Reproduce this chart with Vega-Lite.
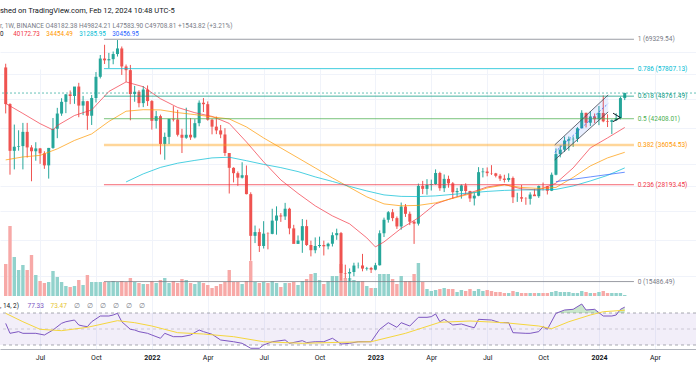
{
"$schema": "https://vega.github.io/schema/vega-lite/v6.json",
"width": 696, "height": 333,
"autosize": {"type": "none"},
"padding": {"left": 0, "right": 0, "top": 16, "bottom": 36},
"background": "#ffffff",
"config": {"view": {"stroke": null}, "font": "Roboto"},
"title": {"text": "shed on TradingView.com, Feb 12, 2024 10:48 UTC-5", "subtitle": "r, 1W, BINANCE  O48182.38  H49824.21  L47583.90  C49708.81  +1543.82 (+3.21%)", "anchor": "start", "frame": "group", "offset": -13, "fontSize": 7.5, "fontWeight": "normal", "color": "#131722", "subtitleFontSize": 6.5, "subtitleColor": "#787b86", "subtitlePadding": 8, "font": "Roboto", "subtitleFont": "Roboto"},
"datasets": {
"candles": [
{"d":"2021-05-10","o":58241,"h":59595,"l":43825,"c":46432,"v":448},
{"d":"2021-05-17","o":46432,"h":46664,"l":30000,"c":34770,"v":980},
{"d":"2021-05-24","o":34770,"h":40900,"l":31000,"c":35660,"v":546},
{"d":"2021-05-31","o":35660,"h":39480,"l":34800,"c":35800,"v":364},
{"d":"2021-06-07","o":35800,"h":41330,"l":31000,"c":39097,"v":434},
{"d":"2021-06-14","o":39097,"h":41330,"l":33340,"c":35510,"v":364},
{"d":"2021-06-21","o":35510,"h":36000,"l":28805,"c":34680,"v":574},
{"d":"2021-06-28","o":34680,"h":36670,"l":32700,"c":35290,"v":294},
{"d":"2021-07-05","o":35290,"h":35400,"l":32080,"c":34240,"v":210},
{"d":"2021-07-12","o":34240,"h":34680,"l":31100,"c":31780,"v":182},
{"d":"2021-07-19","o":31780,"h":35400,"l":29280,"c":35400,"v":196},
{"d":"2021-07-26","o":35400,"h":42600,"l":35200,"c":39850,"v":350},
{"d":"2021-08-02","o":39850,"h":45360,"l":37600,"c":43790,"v":266},
{"d":"2021-08-09","o":43790,"h":48140,"l":43180,"c":47080,"v":196},
{"d":"2021-08-16","o":47080,"h":49400,"l":43900,"c":49300,"v":140},
{"d":"2021-08-23","o":49300,"h":50500,"l":46400,"c":48810,"v":126},
{"d":"2021-08-30","o":48810,"h":51100,"l":46500,"c":51750,"v":140},
{"d":"2021-09-06","o":51750,"h":52950,"l":42800,"c":46000,"v":224},
{"d":"2021-09-13","o":46000,"h":48850,"l":43370,"c":47260,"v":154},
{"d":"2021-09-20","o":47260,"h":47360,"l":39600,"c":43200,"v":294},
{"d":"2021-09-27","o":43200,"h":49100,"l":40800,"c":48200,"v":196},
{"d":"2021-10-04","o":48200,"h":56600,"l":46900,"c":54960,"v":196},
{"d":"2021-10-11","o":54960,"h":62900,"l":54400,"c":61530,"v":196},
{"d":"2021-10-18","o":61530,"h":67000,"l":59500,"c":60860,"v":196},
{"d":"2021-10-25","o":60860,"h":63710,"l":58000,"c":61300,"v":196},
{"d":"2021-11-01","o":61300,"h":64270,"l":59400,"c":63270,"v":210},
{"d":"2021-11-08","o":63270,"h":69000,"l":62300,"c":65500,"v":196},
{"d":"2021-11-15","o":65500,"h":66300,"l":55600,"c":58600,"v":210},
{"d":"2021-11-22","o":58600,"h":59300,"l":53250,"c":57270,"v":196},
{"d":"2021-11-29","o":57270,"h":59150,"l":42000,"c":49400,"v":252},
{"d":"2021-12-06","o":49400,"h":51950,"l":47100,"c":50100,"v":196},
{"d":"2021-12-13","o":50100,"h":50600,"l":45500,"c":46700,"v":182},
{"d":"2021-12-20","o":46700,"h":51900,"l":45560,"c":50800,"v":168},
{"d":"2021-12-27","o":50800,"h":52100,"l":45900,"c":47300,"v":168},
{"d":"2022-01-03","o":47300,"h":47570,"l":39650,"c":41860,"v":210},
{"d":"2022-01-10","o":41860,"h":44500,"l":39900,"c":43080,"v":182},
{"d":"2022-01-17","o":43080,"h":43500,"l":34000,"c":36280,"v":224},
{"d":"2022-01-24","o":36280,"h":38920,"l":32900,"c":37900,"v":252},
{"d":"2022-01-31","o":37900,"h":42000,"l":36250,"c":42400,"v":182},
{"d":"2022-02-07","o":42400,"h":45850,"l":41700,"c":42200,"v":210},
{"d":"2022-02-14","o":42200,"h":44800,"l":38000,"c":38400,"v":182},
{"d":"2022-02-21","o":38400,"h":39850,"l":34300,"c":37700,"v":238},
{"d":"2022-02-28","o":37700,"h":45400,"l":37450,"c":38400,"v":224},
{"d":"2022-03-07","o":38400,"h":42600,"l":37200,"c":37780,"v":182},
{"d":"2022-03-14","o":37780,"h":42300,"l":37550,"c":41260,"v":168},
{"d":"2022-03-21","o":41260,"h":47500,"l":40470,"c":46820,"v":196},
{"d":"2022-03-28","o":46820,"h":48190,"l":44200,"c":46400,"v":182},
{"d":"2022-04-04","o":46400,"h":47200,"l":41900,"c":42150,"v":154},
{"d":"2022-04-11","o":42150,"h":42400,"l":38500,"c":40380,"v":112},
{"d":"2022-04-18","o":40380,"h":42980,"l":38550,"c":39450,"v":140},
{"d":"2022-04-25","o":39450,"h":40800,"l":37600,"c":38470,"v":168},
{"d":"2022-05-02","o":38470,"h":40000,"l":33700,"c":34300,"v":196},
{"d":"2022-05-09","o":34300,"h":34300,"l":26700,"c":31300,"v":364},
{"d":"2022-05-16","o":31300,"h":31400,"l":28600,"c":30280,"v":196},
{"d":"2022-05-23","o":30280,"h":30600,"l":28000,"c":29450,"v":196},
{"d":"2022-05-30","o":29450,"h":32400,"l":29300,"c":29900,"v":168},
{"d":"2022-06-06","o":29900,"h":31750,"l":26560,"c":26600,"v":210},
{"d":"2022-06-13","o":26600,"h":26900,"l":17620,"c":20550,"v":490},
{"d":"2022-06-20","o":20550,"h":21900,"l":19650,"c":21030,"v":196},
{"d":"2022-06-27","o":21030,"h":21500,"l":18600,"c":19300,"v":182},
{"d":"2022-07-04","o":19300,"h":22500,"l":19000,"c":20830,"v":196},
{"d":"2022-07-11","o":20830,"h":21000,"l":18900,"c":20800,"v":182},
{"d":"2022-07-18","o":20800,"h":24300,"l":20750,"c":22580,"v":210},
{"d":"2022-07-25","o":22580,"h":24660,"l":20700,"c":23300,"v":182},
{"d":"2022-08-01","o":23300,"h":23650,"l":22400,"c":23170,"v":126},
{"d":"2022-08-08","o":23170,"h":25200,"l":22670,"c":24300,"v":182},
{"d":"2022-08-15","o":24300,"h":24450,"l":20750,"c":21520,"v":182},
{"d":"2022-08-22","o":21520,"h":22000,"l":19800,"c":19550,"v":196},
{"d":"2022-08-29","o":19550,"h":20600,"l":19550,"c":19960,"v":154},
{"d":"2022-09-05","o":19960,"h":22800,"l":18500,"c":21820,"v":210},
{"d":"2022-09-12","o":21820,"h":22700,"l":19300,"c":19420,"v":238},
{"d":"2022-09-19","o":19420,"h":19950,"l":18100,"c":18800,"v":308},
{"d":"2022-09-26","o":18800,"h":20350,"l":18450,"c":19300,"v":322},
{"d":"2022-10-03","o":19300,"h":20450,"l":19100,"c":19420,"v":224},
{"d":"2022-10-10","o":19420,"h":19950,"l":18200,"c":19260,"v":168},
{"d":"2022-10-17","o":19260,"h":19700,"l":18900,"c":19570,"v":210},
{"d":"2022-10-24","o":19570,"h":21000,"l":19240,"c":20630,"v":280},
{"d":"2022-10-31","o":20630,"h":21480,"l":20050,"c":20900,"v":280},
{"d":"2022-11-07","o":20900,"h":21050,"l":15590,"c":16330,"v":448},
{"d":"2022-11-14","o":16330,"h":17190,"l":15800,"c":16280,"v":252},
{"d":"2022-11-21","o":16280,"h":16800,"l":15480,"c":16430,"v":252},
{"d":"2022-11-28","o":16430,"h":17400,"l":16000,"c":17100,"v":224},
{"d":"2022-12-05","o":17100,"h":17420,"l":16800,"c":17110,"v":210},
{"d":"2022-12-12","o":17110,"h":18380,"l":16500,"c":16780,"v":210},
{"d":"2022-12-19","o":16780,"h":16960,"l":16580,"c":16840,"v":140},
{"d":"2022-12-26","o":16840,"h":16960,"l":16330,"c":16670,"v":112},
{"d":"2023-01-02","o":16670,"h":17390,"l":16600,"c":17130,"v":112},
{"d":"2023-01-09","o":17130,"h":21260,"l":17100,"c":20880,"v":308},
{"d":"2023-01-16","o":20880,"h":23000,"l":20400,"c":22700,"v":308},
{"d":"2023-01-23","o":22700,"h":23950,"l":22300,"c":23780,"v":308},
{"d":"2023-01-30","o":23780,"h":24250,"l":22500,"c":22930,"v":238},
{"d":"2023-02-06","o":22930,"h":23160,"l":21450,"c":21780,"v":168},
{"d":"2023-02-13","o":21780,"h":25250,"l":21350,"c":24630,"v":280},
{"d":"2023-02-20","o":24630,"h":25020,"l":23100,"c":23550,"v":210},
{"d":"2023-02-27","o":23550,"h":23880,"l":21960,"c":22430,"v":210},
{"d":"2023-03-06","o":22430,"h":22600,"l":19550,"c":22160,"v":308},
{"d":"2023-03-13","o":22160,"h":28390,"l":21900,"c":27990,"v":462},
{"d":"2023-03-20","o":27990,"h":28870,"l":26600,"c":27480,"v":196},
{"d":"2023-03-27","o":27480,"h":29180,"l":26500,"c":28170,"v":98},
{"d":"2023-04-03","o":28170,"h":29100,"l":27200,"c":28320,"v":70},
{"d":"2023-04-10","o":28320,"h":31000,"l":28170,"c":30310,"v":84},
{"d":"2023-04-17","o":30310,"h":30550,"l":27150,"c":27590,"v":98},
{"d":"2023-04-24","o":27590,"h":30040,"l":26940,"c":29230,"v":112},
{"d":"2023-05-01","o":29230,"h":29820,"l":27670,"c":28430,"v":98},
{"d":"2023-05-08","o":28430,"h":28660,"l":25810,"c":26920,"v":98},
{"d":"2023-05-15","o":26920,"h":27650,"l":26200,"c":27110,"v":56},
{"d":"2023-05-22","o":27110,"h":28260,"l":25870,"c":28070,"v":84},
{"d":"2023-05-29","o":28070,"h":28450,"l":26520,"c":27120,"v":70},
{"d":"2023-06-05","o":27120,"h":27160,"l":25350,"c":25900,"v":98},
{"d":"2023-06-12","o":25900,"h":26800,"l":24800,"c":26340,"v":70},
{"d":"2023-06-19","o":26340,"h":31430,"l":26260,"c":30470,"v":98},
{"d":"2023-06-26","o":30470,"h":31280,"l":29500,"c":30590,"v":70},
{"d":"2023-07-03","o":30590,"h":31380,"l":29700,"c":30290,"v":84},
{"d":"2023-07-10","o":30290,"h":31820,"l":29950,"c":30240,"v":70},
{"d":"2023-07-17","o":30240,"h":30340,"l":29500,"c":29790,"v":56},
{"d":"2023-07-24","o":29790,"h":30100,"l":28860,"c":29280,"v":56},
{"d":"2023-07-31","o":29280,"h":29990,"l":28580,"c":29040,"v":42},
{"d":"2023-08-07","o":29040,"h":30250,"l":28700,"c":29400,"v":42},
{"d":"2023-08-14","o":29400,"h":29660,"l":25170,"c":26090,"v":70},
{"d":"2023-08-21","o":26090,"h":26820,"l":25350,"c":26100,"v":56},
{"d":"2023-08-28","o":26100,"h":28140,"l":25360,"c":25870,"v":42},
{"d":"2023-09-04","o":25870,"h":26100,"l":24900,"c":25840,"v":42},
{"d":"2023-09-11","o":25840,"h":26900,"l":24930,"c":26530,"v":42},
{"d":"2023-09-18","o":26530,"h":27480,"l":26300,"c":26260,"v":42},
{"d":"2023-09-25","o":26260,"h":28050,"l":25990,"c":27980,"v":42},
{"d":"2023-10-02","o":27980,"h":28580,"l":27200,"c":27930,"v":42},
{"d":"2023-10-09","o":27930,"h":28000,"l":26540,"c":27160,"v":42},
{"d":"2023-10-16","o":27160,"h":30400,"l":27100,"c":29990,"v":56},
{"d":"2023-10-23","o":29990,"h":35280,"l":29880,"c":34080,"v":70},
{"d":"2023-10-30","o":34080,"h":35980,"l":33390,"c":35010,"v":56},
{"d":"2023-11-06","o":35010,"h":37980,"l":34530,"c":37060,"v":56},
{"d":"2023-11-13","o":37060,"h":37980,"l":34800,"c":37360,"v":56},
{"d":"2023-11-20","o":37360,"h":38000,"l":35630,"c":37450,"v":42},
{"d":"2023-11-27","o":37450,"h":40250,"l":36700,"c":39970,"v":42},
{"d":"2023-12-04","o":39970,"h":44700,"l":39970,"c":43990,"v":70},
{"d":"2023-12-11","o":43990,"h":44000,"l":40180,"c":41370,"v":56},
{"d":"2023-12-18","o":41370,"h":44400,"l":40550,"c":43010,"v":42},
{"d":"2023-12-25","o":43010,"h":43800,"l":41300,"c":42280,"v":42},
{"d":"2024-01-01","o":42280,"h":45880,"l":40750,"c":43950,"v":56},
{"d":"2024-01-08","o":43950,"h":48970,"l":41500,"c":41730,"v":70},
{"d":"2024-01-15","o":41730,"h":43580,"l":40280,"c":41580,"v":42},
{"d":"2024-01-22","o":41580,"h":42200,"l":38550,"c":42030,"v":42},
{"d":"2024-01-29","o":42030,"h":43880,"l":41800,"c":42580,"v":42},
{"d":"2024-02-05","o":42580,"h":48590,"l":42250,"c":48180,"v":42},
{"d":"2024-02-12","o":48182.38,"h":49824.21,"l":47583.90,"c":49708.81,"v":14}
],
"ma": [
{"k":"MA20","d":"2021-05-10","p":46600},{"k":"MA20","d":"2021-06-07","p":43810},{"k":"MA20","d":"2021-07-05","p":41130},{"k":"MA20","d":"2021-07-26","p":39570},{"k":"MA20","d":"2021-08-02","p":40660},{"k":"MA20","d":"2021-08-30","p":43260},{"k":"MA20","d":"2021-09-27","p":44780},{"k":"MA20","d":"2021-10-25","p":50200},{"k":"MA20","d":"2021-11-22","p":53240},{"k":"MA20","d":"2021-12-20","p":51690},{"k":"MA20","d":"2022-01-17","p":47990},{"k":"MA20","d":"2022-02-14","p":45470},{"k":"MA20","d":"2022-03-14","p":44010},{"k":"MA20","d":"2022-04-11","p":43020},{"k":"MA20","d":"2022-05-09","p":41190},{"k":"MA20","d":"2022-06-06","p":36730},{"k":"MA20","d":"2022-07-04","p":32470},{"k":"MA20","d":"2022-08-01","p":29040},{"k":"MA20","d":"2022-08-29","p":26720},{"k":"MA20","d":"2022-09-26","p":24740},{"k":"MA20","d":"2022-10-24","p":23250},{"k":"MA20","d":"2022-11-21","p":22130},{"k":"MA20","d":"2022-12-19","p":20290},{"k":"MA20","d":"2023-01-02","p":19190},{"k":"MA20","d":"2023-01-16","p":19790},{"k":"MA20","d":"2023-02-13","p":21520},{"k":"MA20","d":"2023-03-13","p":22970},{"k":"MA20","d":"2023-04-10","p":25040},{"k":"MA20","d":"2023-05-08","p":25980},{"k":"MA20","d":"2023-06-05","p":26800},{"k":"MA20","d":"2023-07-03","p":27810},{"k":"MA20","d":"2023-07-31","p":28240},{"k":"MA20","d":"2023-08-28","p":27470},{"k":"MA20","d":"2023-09-25","p":27300},{"k":"MA20","d":"2023-10-23","p":28460},{"k":"MA20","d":"2023-11-20","p":31280},{"k":"MA20","d":"2023-12-18","p":35400},{"k":"MA20","d":"2024-01-15","p":37660},{"k":"MA20","d":"2024-02-12","p":40172.73},
{"k":"MA50","d":"2021-05-10","p":32870},{"k":"MA50","d":"2021-06-07","p":33480},{"k":"MA50","d":"2021-07-05","p":33800},{"k":"MA50","d":"2021-08-02","p":35190},{"k":"MA50","d":"2021-08-30","p":37080},{"k":"MA50","d":"2021-09-27","p":38600},{"k":"MA50","d":"2021-10-25","p":41700},{"k":"MA50","d":"2021-11-22","p":44420},{"k":"MA50","d":"2021-12-20","p":44840},{"k":"MA50","d":"2022-01-17","p":44780},{"k":"MA50","d":"2022-02-14","p":44040},{"k":"MA50","d":"2022-03-14","p":43500},{"k":"MA50","d":"2022-04-11","p":42890},{"k":"MA50","d":"2022-05-09","p":42350},{"k":"MA50","d":"2022-06-06","p":40310},{"k":"MA50","d":"2022-07-04","p":37650},{"k":"MA50","d":"2022-08-01","p":35400},{"k":"MA50","d":"2022-08-29","p":33280},{"k":"MA50","d":"2022-09-26","p":31280},{"k":"MA50","d":"2022-10-24","p":29400},{"k":"MA50","d":"2022-11-21","p":27730},{"k":"MA50","d":"2022-12-19","p":26150},{"k":"MA50","d":"2023-01-16","p":25040},{"k":"MA50","d":"2023-02-13","p":24740},{"k":"MA50","d":"2023-03-13","p":24810},{"k":"MA50","d":"2023-04-10","p":25200},{"k":"MA50","d":"2023-05-08","p":25910},{"k":"MA50","d":"2023-06-05","p":26630},{"k":"MA50","d":"2023-07-03","p":27640},{"k":"MA50","d":"2023-07-31","p":28160},{"k":"MA50","d":"2023-08-28","p":27720},{"k":"MA50","d":"2023-09-25","p":27560},{"k":"MA50","d":"2023-10-23","p":27720},{"k":"MA50","d":"2023-11-20","p":29500},{"k":"MA50","d":"2023-12-18","p":31670},{"k":"MA50","d":"2024-01-15","p":33280},{"k":"MA50","d":"2024-02-12","p":34454.49},
{"k":"MA100","d":"2021-11-22","p":28680},{"k":"MA100","d":"2021-12-20","p":30150},{"k":"MA100","d":"2022-01-17","p":31380},{"k":"MA100","d":"2022-02-14","p":32210},{"k":"MA100","d":"2022-03-14","p":32770},{"k":"MA100","d":"2022-04-11","p":33280},{"k":"MA100","d":"2022-05-09","p":33420},{"k":"MA100","d":"2022-06-06","p":32710},{"k":"MA100","d":"2022-07-04","p":31970},{"k":"MA100","d":"2022-08-01","p":31340},{"k":"MA100","d":"2022-08-29","p":30580},{"k":"MA100","d":"2022-09-26","p":29590},{"k":"MA100","d":"2022-10-24","p":28770},{"k":"MA100","d":"2022-11-21","p":27900},{"k":"MA100","d":"2022-12-19","p":27130},{"k":"MA100","d":"2023-01-16","p":26470},{"k":"MA100","d":"2023-02-13","p":26230},{"k":"MA100","d":"2023-03-13","p":26200},{"k":"MA100","d":"2023-04-10","p":26310},{"k":"MA100","d":"2023-05-08","p":26560},{"k":"MA100","d":"2023-06-05","p":26800},{"k":"MA100","d":"2023-07-03","p":27050},{"k":"MA100","d":"2023-07-31","p":27220},{"k":"MA100","d":"2023-08-28","p":27300},{"k":"MA100","d":"2023-09-25","p":27300},{"k":"MA100","d":"2023-10-23","p":27390},{"k":"MA100","d":"2023-11-20","p":27980},{"k":"MA100","d":"2023-12-18","p":28860},{"k":"MA100","d":"2024-01-15","p":29870},{"k":"MA100","d":"2024-02-12","p":31285.95},
{"k":"MA200","d":"2023-10-23","p":28740},{"k":"MA200","d":"2023-12-18","p":29590},{"k":"MA200","d":"2024-02-12","p":30456.95}
],
"fib": [
{"lv":"1","p":69329.54,"t":"1 (69329.54)"},
{"lv":"0.786","p":57807.13,"t":"0.786 (57807.13)"},
{"lv":"0.618","p":48761.49,"t":"0.618 (48761.49)"},
{"lv":"0.5","p":42408.01,"t":"0.5 (42408.01)"},
{"lv":"0.382","p":36054.53,"t":"0.382 (36054.53)"},
{"lv":"0.236","p":28193.45,"t":"0.236 (28193.45)"},
{"lv":"0","p":15486.49,"t":"0 (15486.49)"}
],
"last": [{"p":49708.81}],
"chan": [{"d":"2023-10-21","lo":32870,"hi":36070,"mid":34440},{"d":"2024-01-16","lo":44230,"hi":49130,"mid":46600}],
"arrow": [{"d1":"2024-01-24","p1":43880,"d2":"2024-02-05","p2":42710},{"d1":"2024-01-24","p1":41650,"d2":"2024-02-05","p2":42710}],
"rsiband": [{"lo":30,"hi":70}],
"rsilv": [{"r":70},{"r":50},{"r":30}],
"ob": [{"d":"2023-10-24","r":70,"s":"a"},{"d":"2023-11-06","r":73.75,"s":"a"},{"d":"2023-11-20","r":74.6,"s":"a"},{"d":"2023-12-04","r":81.25,"s":"a"},{"d":"2023-12-11","r":73.75,"s":"a"},{"d":"2023-12-25","r":74.6,"s":"a"},{"d":"2024-01-01","r":70.4,"s":"a"},{"d":"2024-01-02","r":70,"s":"a"},{"d":"2024-02-01","r":70,"s":"b"},{"d":"2024-02-05","r":74.6,"s":"b"},{"d":"2024-02-12","r":77.33,"s":"b"}],
"rsi": [
{"k":"RSI","d":"2021-05-10","r":57},{"k":"RSI","d":"2021-05-17","r":44.6},{"k":"RSI","d":"2021-05-31","r":46.7},{"k":"RSI","d":"2021-06-07","r":44.6},{"k":"RSI","d":"2021-06-28","r":44.6},{"k":"RSI","d":"2021-07-12","r":42.5},{"k":"RSI","d":"2021-07-26","r":48.75},{"k":"RSI","d":"2021-08-09","r":57.1},{"k":"RSI","d":"2021-08-16","r":59.1},{"k":"RSI","d":"2021-08-30","r":61.25},{"k":"RSI","d":"2021-09-06","r":55},{"k":"RSI","d":"2021-09-13","r":53.75},{"k":"RSI","d":"2021-09-20","r":52.9},{"k":"RSI","d":"2021-09-27","r":59.1},{"k":"RSI","d":"2021-10-11","r":66.25},{"k":"RSI","d":"2021-10-25","r":66.25},{"k":"RSI","d":"2021-11-01","r":67.5},{"k":"RSI","d":"2021-11-08","r":69.6},{"k":"RSI","d":"2021-11-15","r":59.1},{"k":"RSI","d":"2021-11-29","r":49.6},{"k":"RSI","d":"2021-12-06","r":48.75},{"k":"RSI","d":"2021-12-13","r":46.7},{"k":"RSI","d":"2021-12-27","r":44.6},{"k":"RSI","d":"2022-01-03","r":42.5},{"k":"RSI","d":"2022-01-17","r":38.4},{"k":"RSI","d":"2022-01-24","r":44.6},{"k":"RSI","d":"2022-02-07","r":40.4},{"k":"RSI","d":"2022-02-21","r":40.4},{"k":"RSI","d":"2022-03-07","r":42.5},{"k":"RSI","d":"2022-03-21","r":48.75},{"k":"RSI","d":"2022-03-28","r":46.7},{"k":"RSI","d":"2022-04-11","r":43.4},{"k":"RSI","d":"2022-04-25","r":36.25},{"k":"RSI","d":"2022-05-16","r":34.1},{"k":"RSI","d":"2022-05-30","r":32.1},{"k":"RSI","d":"2022-06-13","r":25.9},{"k":"RSI","d":"2022-06-27","r":25.9},{"k":"RSI","d":"2022-07-04","r":30},{"k":"RSI","d":"2022-07-18","r":34.1},{"k":"RSI","d":"2022-08-08","r":36.25},{"k":"RSI","d":"2022-08-15","r":32.1},{"k":"RSI","d":"2022-09-05","r":35.4},{"k":"RSI","d":"2022-09-12","r":33},{"k":"RSI","d":"2022-09-26","r":34.1},{"k":"RSI","d":"2022-10-10","r":34.1},{"k":"RSI","d":"2022-10-24","r":38.4},{"k":"RSI","d":"2022-11-07","r":31.25},{"k":"RSI","d":"2022-11-21","r":32.1},{"k":"RSI","d":"2022-12-05","r":34.1},{"k":"RSI","d":"2022-12-26","r":34.1},{"k":"RSI","d":"2023-01-09","r":49.6},{"k":"RSI","d":"2023-01-23","r":57.9},{"k":"RSI","d":"2023-02-06","r":52.1},{"k":"RSI","d":"2023-02-13","r":57.9},{"k":"RSI","d":"2023-02-27","r":53.75},{"k":"RSI","d":"2023-03-13","r":64.6},{"k":"RSI","d":"2023-03-27","r":64.6},{"k":"RSI","d":"2023-04-03","r":65.4},{"k":"RSI","d":"2023-04-10","r":68.75},{"k":"RSI","d":"2023-04-17","r":59.1},{"k":"RSI","d":"2023-04-24","r":62.1},{"k":"RSI","d":"2023-05-08","r":55},{"k":"RSI","d":"2023-05-22","r":56.25},{"k":"RSI","d":"2023-06-05","r":52.9},{"k":"RSI","d":"2023-06-12","r":51.6},{"k":"RSI","d":"2023-06-19","r":62.1},{"k":"RSI","d":"2023-07-10","r":61.25},{"k":"RSI","d":"2023-07-24","r":57.9},{"k":"RSI","d":"2023-08-07","r":57.9},{"k":"RSI","d":"2023-08-14","r":45.4},{"k":"RSI","d":"2023-09-04","r":44.6},{"k":"RSI","d":"2023-09-11","r":44.6},{"k":"RSI","d":"2023-09-25","r":46.7},{"k":"RSI","d":"2023-10-02","r":52.9},{"k":"RSI","d":"2023-10-09","r":49.6},{"k":"RSI","d":"2023-10-23","r":69.6},{"k":"RSI","d":"2023-11-06","r":73.75},{"k":"RSI","d":"2023-11-20","r":74.6},{"k":"RSI","d":"2023-12-04","r":81.25},{"k":"RSI","d":"2023-12-11","r":73.75},{"k":"RSI","d":"2023-12-25","r":74.6},{"k":"RSI","d":"2024-01-01","r":70.4},{"k":"RSI","d":"2024-01-08","r":66.25},{"k":"RSI","d":"2024-01-22","r":66.25},{"k":"RSI","d":"2024-01-29","r":67.5},{"k":"RSI","d":"2024-02-05","r":74.6},{"k":"RSI","d":"2024-02-12","r":77.33},
{"k":"MA","d":"2021-05-10","r":69.6},{"k":"MA","d":"2021-06-07","r":59.1},{"k":"MA","d":"2021-07-05","r":49.6},{"k":"MA","d":"2021-08-09","r":47.9},{"k":"MA","d":"2021-09-20","r":52.1},{"k":"MA","d":"2021-11-08","r":60.4},{"k":"MA","d":"2021-12-06","r":57.9},{"k":"MA","d":"2022-01-03","r":53.75},{"k":"MA","d":"2022-02-14","r":45.4},{"k":"MA","d":"2022-03-28","r":43.75},{"k":"MA","d":"2022-05-16","r":40.4},{"k":"MA","d":"2022-07-04","r":34.1},{"k":"MA","d":"2022-09-05","r":32.1},{"k":"MA","d":"2022-11-07","r":33.4},{"k":"MA","d":"2022-12-26","r":34.1},{"k":"MA","d":"2023-02-20","r":44.6},{"k":"MA","d":"2023-04-17","r":58.4},{"k":"MA","d":"2023-06-05","r":60},{"k":"MA","d":"2023-07-31","r":57.9},{"k":"MA","d":"2023-09-25","r":53.75},{"k":"MA","d":"2023-10-16","r":50.4},{"k":"MA","d":"2023-11-13","r":59.1},{"k":"MA","d":"2023-12-18","r":67.5},{"k":"MA","d":"2024-01-08","r":71.6},{"k":"MA","d":"2024-02-12","r":73.47}
]
},
"layer": [
{"layer": [
 {"data": {"name": "candles"}, "transform": [{"filter": "datum.c >= datum.o"}], "mark": {"type": "bar", "width": 3.4, "color": "#92d2cc"},
  "encoding": {
   "x": {"field": "d", "type": "temporal", "scale": {"domain": [{"year":2021,"month":5,"date":8,"hours":20,"minutes":38,"utc":true},{"year":2024,"month":5,"date":29,"hours":21,"minutes":30,"utc":true}]},
     "axis": {"title": null, "values": [{"year":2021,"month":7,"date":5,"utc":true},{"year":2021,"month":10,"date":4,"utc":true},{"year":2022,"month":1,"date":3,"utc":true},{"year":2022,"month":4,"date":4,"utc":true},{"year":2022,"month":7,"date":4,"utc":true},{"year":2022,"month":10,"date":3,"utc":true},{"year":2023,"month":1,"date":2,"utc":true},{"year":2023,"month":4,"date":3,"utc":true},{"year":2023,"month":7,"date":3,"utc":true},{"year":2023,"month":10,"date":2,"utc":true},{"year":2024,"month":1,"date":1,"utc":true},{"year":2024,"month":4,"date":1,"utc":true}],
      "labelExpr": "utcmonth(datum.value) === 0 ? utcFormat(datum.value, '%Y') : utcFormat(datum.value, '%b')",
      "grid": true, "gridColor": "#f0f3fa", "ticks": false, "domainColor": "#b2b5be", "labelFontSize": 7, "labelColor": "#131722", "labelPadding": 4, "labelOverlap": false, "labelFlush": false,
      "labelFontWeight": {"condition": {"test": "utcmonth(datum.value) === 0", "value": "bold"}, "value": "normal"}}},
   "y": {"field": "v", "type": "quantitative", "scale": {"domain": [0, 3920], "range": [280, 0]}, "axis": null}}},
 {"data": {"name": "candles"}, "transform": [{"filter": "datum.c < datum.o"}], "mark": {"type": "bar", "width": 3.4, "color": "#f7a9a7"},
  "encoding": {"x": {"field": "d", "type": "temporal"}, "y": {"field": "v", "type": "quantitative", "scale": {"domain": [0, 3920], "range": [280, 0]}, "axis": null}}}
]},
{"layer": [
 {"data": {"name": "candles"}, "transform": [{"filter": "datum.c >= datum.o"}], "mark": {"type": "rule", "color": "#26a69a", "strokeWidth": 1},
  "encoding": {"x": {"field": "d", "type": "temporal"},
   "y": {"field": "l", "type": "quantitative", "scale": {"type": "log", "domain": [13818, 80060], "range": [284, 0], "nice": false},
     "axis": {"title": null, "labels": false, "ticks": false, "domain": false, "grid": true, "gridColor": "#f0f3fa", "values": [16000, 20000, 24000, 28000, 32000, 40000, 48000, 56000, 64000]}},
   "y2": {"field": "h"}}},
 {"data": {"name": "candles"}, "transform": [{"filter": "datum.c < datum.o"}], "mark": {"type": "rule", "color": "#ef5350", "strokeWidth": 1},
  "encoding": {"x": {"field": "d", "type": "temporal"}, "y": {"field": "l", "type": "quantitative"}, "y2": {"field": "h"}}},
 {"data": {"name": "candles"}, "transform": [{"filter": "datum.c >= datum.o"}], "mark": {"type": "bar", "width": 3, "color": "#26a69a"},
  "encoding": {"x": {"field": "d", "type": "temporal"}, "y": {"field": "o", "type": "quantitative"}, "y2": {"field": "c"}}},
 {"data": {"name": "candles"}, "transform": [{"filter": "datum.c < datum.o"}], "mark": {"type": "bar", "width": 3, "color": "#ef5350"},
  "encoding": {"x": {"field": "d", "type": "temporal"}, "y": {"field": "o", "type": "quantitative"}, "y2": {"field": "c"}}},
 {"data": {"name": "ma"}, "mark": {"type": "line", "strokeWidth": 1, "opacity": 0.7},
  "encoding": {"x": {"field": "d", "type": "temporal"}, "y": {"field": "p", "type": "quantitative"},
   "color": {"field": "k", "type": "nominal", "scale": {"domain": ["MA20", "MA50", "MA100", "MA200"], "range": ["#f23645", "#ff9800", "#00bcd4", "#2962ff"]},
    "legend": {"orient": "none", "legendX": 0, "legendY": 15, "direction": "horizontal", "title": "0", "titleOrient": "left", "titleFontSize": 6.3, "titleFontWeight": "normal", "titleColor": "#131722", "titlePadding": 3, "symbolSize": 0, "symbolStrokeWidth": 0, "symbolOpacity": 0, "labelOffset": 0, "labelFontSize": 6.3, "columnPadding": -2, "padding": 0,
     "labelExpr": "datum.value === 'MA20' ? '40172.73' : datum.value === 'MA50' ? '34454.49' : datum.value === 'MA100' ? '31285.95' : '30456.95'",
     "encode": {"labels": {"update": {"fill": {"signal": "datum.value === 'MA20' ? '#f23645' : datum.value === 'MA50' ? '#ff9800' : datum.value === 'MA100' ? '#00bcd4' : '#2962ff'"}}}}}}}},
 {"data": {"name": "fib"}, "mark": {"type": "rule"},
  "encoding": {"x": {"datum": {"year":2021,"month":10,"date":17,"utc":true}, "type": "temporal"}, "x2": {"datum": {"year":2024,"month":2,"date":27,"utc":true}},
   "y": {"field": "p", "type": "quantitative"},
   "stroke": {"field": "lv", "type": "nominal", "scale": {"domain": ["1", "0.786", "0.618", "0.5", "0.382", "0.236", "0"], "range": ["#787b86", "#00bcd4", "#089981", "#4caf50", "#ff9800", "#f23645", "#787b86"]}, "legend": null},
   "strokeWidth": {"condition": {"test": "datum.lv === '0.382'", "value": 2.5}, "value": 1},
   "strokeOpacity": {"condition": {"test": "datum.lv === '0.382'", "value": 0.4}, "value": 0.75}}},
 {"data": {"name": "fib"}, "mark": {"type": "text", "align": "left", "baseline": "middle", "fontSize": 6.5},
  "encoding": {"x": {"datum": {"year":2024,"month":3,"date":4,"utc":true}, "type": "temporal"}, "y": {"field": "p", "type": "quantitative"}, "text": {"field": "t"},
   "fill": {"field": "lv", "type": "nominal", "scale": {"domain": ["1", "0.786", "0.618", "0.5", "0.382", "0.236", "0"], "range": ["#787b86", "#00bcd4", "#089981", "#4caf50", "#ff9800", "#f23645", "#787b86"]}, "legend": null}}},
 {"data": {"name": "last"}, "mark": {"type": "rule", "color": "#26a69a", "strokeDash": [2, 2], "strokeOpacity": 0.7},
  "encoding": {"y": {"field": "p", "type": "quantitative"}}},
 {"data": {"name": "chan"}, "mark": {"type": "area", "color": "#2962ff", "opacity": 0.1},
  "encoding": {"x": {"field": "d", "type": "temporal"}, "y": {"field": "lo", "type": "quantitative"}, "y2": {"field": "hi"}}},
 {"data": {"name": "chan"}, "mark": {"type": "line", "color": "#434651", "strokeWidth": 0.8},
  "encoding": {"x": {"field": "d", "type": "temporal"}, "y": {"field": "hi", "type": "quantitative"}}},
 {"data": {"name": "chan"}, "mark": {"type": "line", "color": "#434651", "strokeWidth": 0.8},
  "encoding": {"x": {"field": "d", "type": "temporal"}, "y": {"field": "lo", "type": "quantitative"}}},
 {"data": {"name": "chan"}, "mark": {"type": "line", "color": "#2962ff", "strokeWidth": 0.8, "strokeDash": [2, 2]},
  "encoding": {"x": {"field": "d", "type": "temporal"}, "y": {"field": "mid", "type": "quantitative"}}},
 {"data": {"name": "arrow"}, "mark": {"type": "rule", "color": "#131722", "strokeWidth": 1},
  "encoding": {"x": {"field": "d1", "type": "temporal"}, "x2": {"field": "d2"}, "y": {"field": "p1", "type": "quantitative"}, "y2": {"field": "p2"}}}
]},
{"layer": [
 {"data": {"name": "rsiband"}, "mark": {"type": "rect", "color": "#7e57c2", "opacity": 0.1},
  "encoding": {"y": {"field": "lo", "type": "quantitative", "scale": {"domain": [25, 86.25], "range": [333, 284], "nice": false, "zero": false}, "axis": null}, "y2": {"field": "hi"}}},
 {"data": {"name": "rsilv"}, "mark": {"type": "rule", "color": "#787b86", "strokeDash": [3, 3], "strokeWidth": 0.8},
  "encoding": {"y": {"field": "r", "type": "quantitative", "axis": null}, "strokeOpacity": {"condition": {"test": "datum.r === 50", "value": 0.4}, "value": 0.8}}},
 {"data": {"name": "ob"}, "mark": {"type": "area", "color": "#4caf50", "opacity": 0.3},
  "encoding": {"x": {"field": "d", "type": "temporal"}, "y": {"field": "r", "type": "quantitative", "axis": null}, "y2": {"datum": 70}, "detail": {"field": "s"}}},
 {"data": {"name": "rsi"}, "mark": {"type": "line", "strokeWidth": 1},
  "encoding": {"x": {"field": "d", "type": "temporal"}, "y": {"field": "r", "type": "quantitative", "axis": null},
   "color": {"field": "k", "type": "nominal", "scale": {"domain": ["RSI", "MA", "n1", "n2", "n3", "n4", "n5", "n6"], "range": ["#7e57c2", "#f5d63d", "#787b86", "#787b86", "#787b86", "#787b86", "#787b86", "#787b86"]},
    "legend": {"orient": "none", "legendX": 0, "legendY": 287, "direction": "horizontal", "title": ", 14, 2)", "titleOrient": "left", "titleFontSize": 6.5, "titleFontWeight": "normal", "titleColor": "#131722", "titlePadding": 1, "symbolSize": 0, "symbolStrokeWidth": 0, "symbolOpacity": 0, "labelOffset": 0, "labelFontSize": 6.5, "columnPadding": -1, "padding": 0,
     "labelExpr": "datum.value === 'RSI' ? '77.33' : datum.value === 'MA' ? '73.47' : '∅'",
     "encode": {"labels": {"update": {"fill": {"signal": "datum.value === 'RSI' ? '#7e57c2' : datum.value === 'MA' ? '#e6c530' : '#787b86'"}}}}}}}}
]}
],
"resolve": {"scale": {"y": "independent", "color": "independent"}}
}
